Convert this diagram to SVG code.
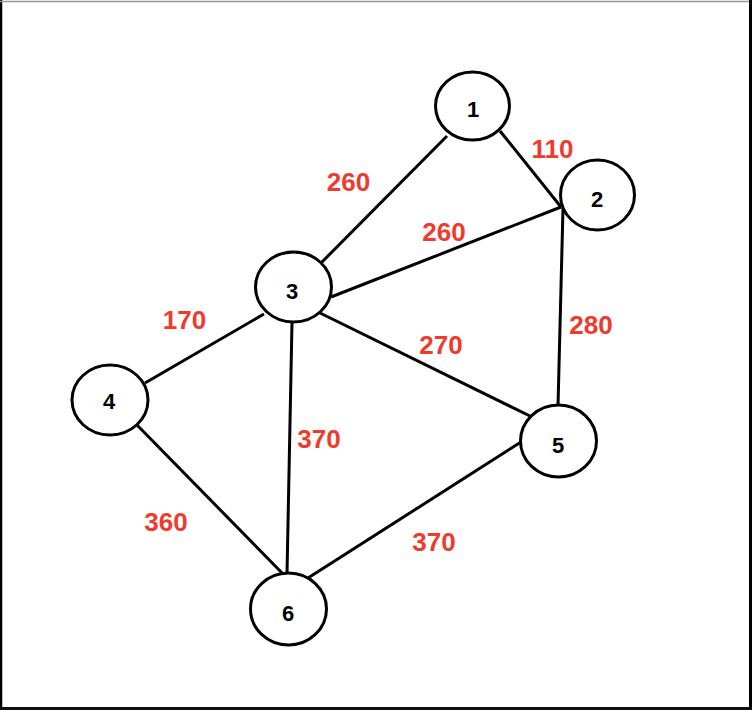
<svg xmlns="http://www.w3.org/2000/svg" width="752" height="710" viewBox="0 0 752 710">
<style>
.node ellipse{fill:#fff;stroke:#000;stroke-width:3}
.node text{font-family:"Liberation Sans",Arial,sans-serif;font-weight:bold;font-size:22px;fill:#000;text-anchor:middle}
.edges line{stroke:#000;stroke-width:3}
.lbl{font-family:"Liberation Sans",Arial,sans-serif;font-weight:bold;font-size:26px;fill:#ef3b2d;text-anchor:middle}
</style>
<rect x="0" y="0" width="752" height="710" fill="#fff"/>
<g id="frame">
<line x1="1" y1="0" x2="1" y2="710" stroke="#000" stroke-width="2.5"/>
<line x1="0" y1="1.5" x2="752" y2="1.5" stroke="#999" stroke-width="1.5"/>
<line x1="750.5" y1="0" x2="750.5" y2="710" stroke="#000" stroke-width="3"/>
<line x1="0" y1="708.5" x2="752" y2="708.5" stroke="#111" stroke-width="3"/>
</g>
<g id="edges" class="edges">
<line x1="447" y1="136" x2="321" y2="263"/>
<line x1="500" y1="131" x2="561" y2="207"/>
<line x1="331" y1="297" x2="561" y2="207"/>
<line x1="563" y1="208" x2="558" y2="406"/>
<line x1="318" y1="312" x2="532" y2="417"/>
<line x1="308" y1="578" x2="521" y2="442"/>
<line x1="292" y1="322" x2="287" y2="574"/>
<line x1="145" y1="383" x2="264" y2="314"/>
<line x1="137" y1="425" x2="285" y2="576"/>
</g>
<g id="edge-labels">
<text class="lbl" x="348.5" y="191">260</text>
<text class="lbl" x="552.5" y="158">110</text>
<text class="lbl" x="444" y="241">260</text>
<text class="lbl" x="184.5" y="329">170</text>
<text class="lbl" x="441" y="354">270</text>
<text class="lbl" x="591" y="334">280</text>
<text class="lbl" x="319" y="448">370</text>
<text class="lbl" x="166" y="531">360</text>
<text class="lbl" x="434" y="551">370</text>
</g>
<g id="node1" class="node"><ellipse cx="472.5" cy="106" rx="37" ry="34"/><text x="473" y="116.5">1</text></g>
<g id="node2" class="node"><ellipse cx="597.5" cy="195" rx="37" ry="35"/><text x="597" y="206.5">2</text></g>
<g id="node3" class="node"><ellipse cx="293.5" cy="287" rx="38" ry="35"/><text x="292" y="298.5">3</text></g>
<g id="node4" class="node"><ellipse cx="110" cy="400" rx="38" ry="35"/><text x="109" y="409">4</text></g>
<g id="node5" class="node"><ellipse cx="558.5" cy="441" rx="38" ry="36"/><text x="558" y="452.5">5</text></g>
<g id="node6" class="node"><ellipse cx="288.5" cy="609" rx="38" ry="36"/><text x="288" y="621">6</text></g>
</svg>
